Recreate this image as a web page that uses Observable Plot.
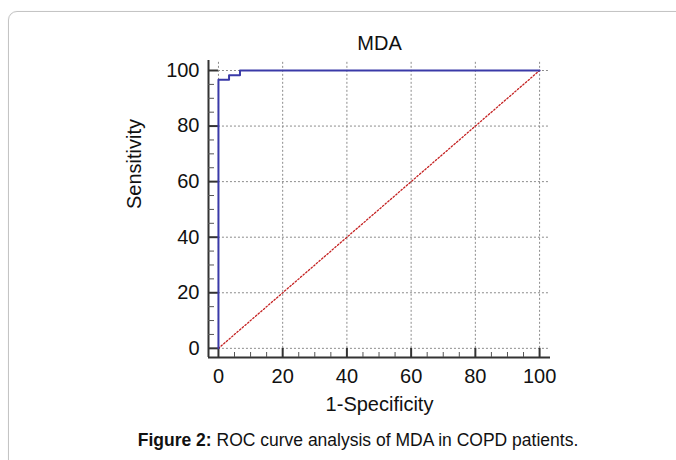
<!DOCTYPE html>
<html>
<head>
<meta charset="utf-8">
<script src="https://cdn.jsdelivr.net/npm/d3@7"></script>
<script src="https://cdn.jsdelivr.net/npm/@observablehq/plot@0.6"></script>
<style>
  html, body { margin: 0; padding: 0; background: #fff; }
  body { width: 676px; height: 460px; position: relative; overflow: hidden; font-family: "Liberation Sans", Arial, sans-serif; }
  #box { position: absolute; left: 8px; top: 11px; width: 720px; height: 520px; border: 1px solid #c4c4c4; border-radius: 9px; box-shadow: 0 0 1px #ddd; }
  #chart { position: absolute; left: 0; top: 0; }
  #caption { position: absolute; left: 20px; width: 676px; top: 430px; text-align: center; font-size: 17.5px; color: #111; }
</style>
</head>
<body>
<div id="box"></div>
<div id="chart"></div>
<div id="caption"><b>Figure 2:</b> ROC curve analysis of MDA in COPD patients.</div>
<script>
// ---- data ----
const title = "MDA";
const xLabel = "1-Specificity";
const yLabel = "Sensitivity";
const rocFpr = [0, 0, 3.3, 6.7, 100];          // 1-Specificity (%)
const rocTpr = [0, 96.7, 98.3, 100, 100];      // Sensitivity (%)
const diagX = [0, 100];
const diagY = [0, 100];
const xTicks = [0, 20, 40, 60, 80, 100];
const yTicks = [0, 20, 40, 60, 80, 100];
const minorTicks = [5, 10, 15, 25, 30, 35, 45, 50, 55, 65, 70, 75, 85, 90, 95];

// ---- layout ----
const W = 676, H = 420;
const mLeft = 208, mRight = 126, mTop = 60, mBottom = H - 357;
const xDom = [-3.1, 103.4];
const yDom = [-3.3, 103.6];
const pxX = (W - mLeft - mRight) / (xDom[1] - xDom[0]);
const pxY = (H - mTop - mBottom) / (yDom[1] - yDom[0]);
const minorX = 5 / pxY;  // minor tick length on x axis in data units
const minorY = 6 / pxX;  // minor tick length on y axis in data units

const roc = rocFpr.map((x, i) => ({x, y: rocTpr[i]}));
const diag = diagX.map((x, i) => ({x, y: diagY[i]}));

const gridStyle = {stroke: "#8c8c8c", strokeWidth: 1, strokeDasharray: "2,2", strokeOpacity: 1};

const chart = Plot.plot({
  width: W, height: H,
  marginLeft: mLeft, marginRight: mRight, marginTop: mTop, marginBottom: mBottom,
  style: {fontFamily: "'Liberation Sans', Arial, sans-serif", fontSize: "20px", color: "#111", background: "transparent", overflow: "visible"},
  x: {domain: xDom},
  y: {domain: yDom},
  marks: [
    // grid
    Plot.ruleX(xTicks, {x: d => d, y1: 0, y2: yDom[1], ...gridStyle}),
    Plot.ruleY(yTicks, {y: d => d, x1: 0, x2: xDom[1] - 0.6, ...gridStyle}),
    // axis lines
    Plot.ruleX([xDom[0]], {y1: yDom[0], y2: yDom[1], stroke: "#333", strokeWidth: 2}),
    Plot.ruleY([yDom[0]], {x1: xDom[0], x2: xDom[1], stroke: "#333", strokeWidth: 2}),
    // major ticks (inward)
    Plot.ruleX(xTicks, {x: d => d, y1: yDom[0], y2: 0, stroke: "#333", strokeWidth: 2}),
    Plot.ruleY(yTicks, {y: d => d, x1: xDom[0], x2: 0, stroke: "#333", strokeWidth: 2}),
    // minor ticks
    Plot.ruleX(minorTicks, {x: d => d, y1: yDom[0], y2: yDom[0] + minorX, stroke: "#555", strokeWidth: 1}),
    Plot.ruleY(minorTicks, {y: d => d, x1: xDom[0], x2: xDom[0] + minorY, stroke: "#555", strokeWidth: 1}),
    // tick labels
    Plot.axisX({ticks: xTicks, tickSize: 0, tickPadding: 11, fontSize: 20, label: null, anchor: "bottom"}),
    Plot.axisY({ticks: yTicks, tickSize: 0, tickPadding: 9, fontSize: 20, label: null, anchor: "left"}),
    // diagonal reference
    Plot.line(diag, {x: "x", y: "y", stroke: "#c42020", strokeWidth: 1.3, strokeDasharray: "1.5,2"}),
    // ROC curve
    Plot.line(roc, {x: "x", y: "y", curve: "step-after", stroke: "#3a3aa8", strokeWidth: 2}),
    // labels
    Plot.text([title], {frameAnchor: "top", dy: -17, fontSize: 20, fill: "#111", lineAnchor: "middle"}),
    Plot.text([xLabel], {frameAnchor: "bottom", dy: 47, fontSize: 20, fill: "#111", lineAnchor: "middle"}),
    Plot.text([yLabel], {frameAnchor: "left", dx: -74, rotate: -90, fontSize: 20, fill: "#111", lineAnchor: "middle"})
  ]
});
document.getElementById("chart").append(chart);
</script>
</body>
</html>
